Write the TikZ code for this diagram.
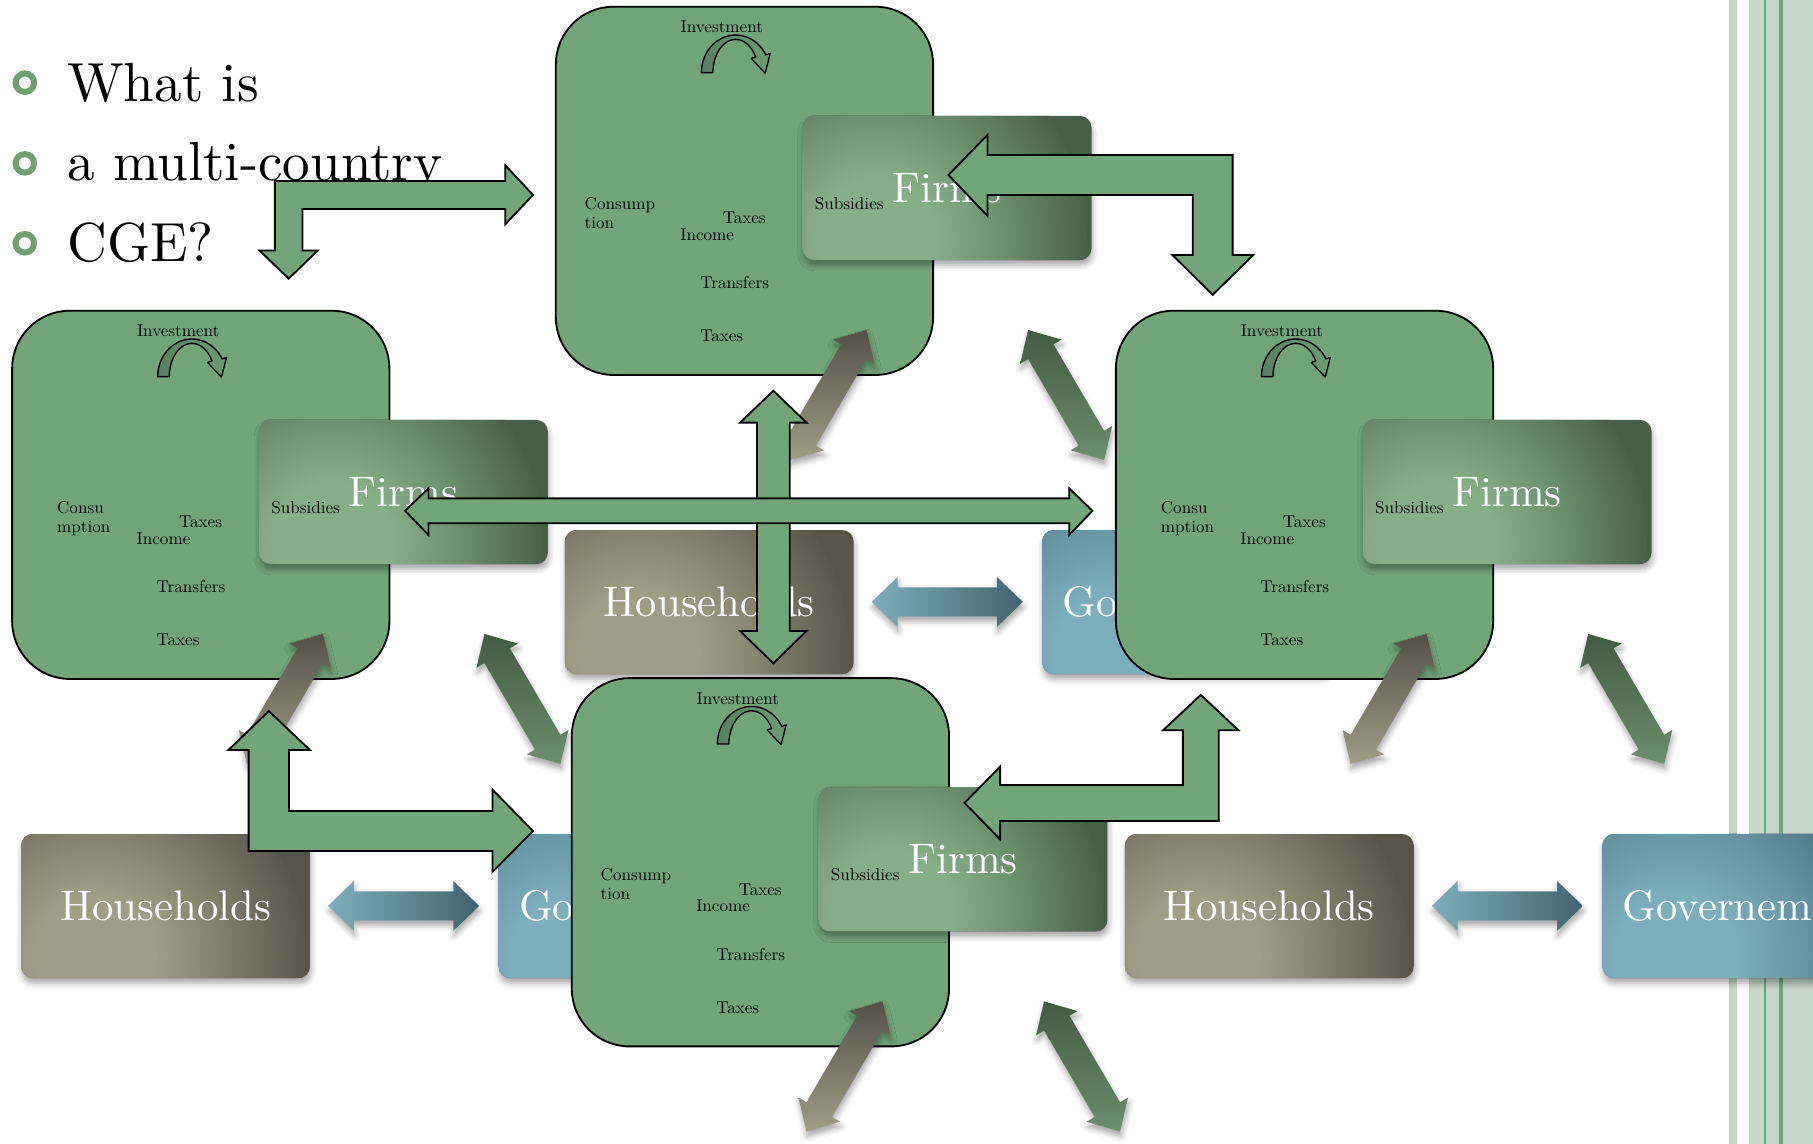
\documentclass[tikz,border=0pt]{standalone}
\usepackage{fontspec}
\setmainfont{lmroman10-regular}[Extension=.otf]
\usetikzlibrary{calc,shadows.blur}

% palette
\definecolor{panelgreen}{HTML}{72A57A}
\definecolor{ringgreen}{HTML}{6FA072}
\definecolor{stripelight}{HTML}{C4D6C6}
\definecolor{stripedark}{HTML}{72A57A}
\definecolor{firmL}{HTML}{86AE88}
\definecolor{firmM}{HTML}{6C8E6D}
\definecolor{firmD}{HTML}{475F46}
\definecolor{hhL}{HTML}{A09D87}
\definecolor{hhM}{HTML}{817E6B}
\definecolor{hhD}{HTML}{57554A}
\definecolor{govL}{HTML}{7DAEBB}
\definecolor{govM}{HTML}{6695A3}
\definecolor{govD}{HTML}{4A6E7A}

% soft glow from the lower left of each box
\pgfdeclareradialshading{firmglow}{\pgfpointorigin}{color(0bp)=(firmL); color(7bp)=(firmL); color(15bp)=(firmM); color(25bp)=(firmD); color(50bp)=(firmD)}
\pgfdeclareradialshading{hhglow}{\pgfpointorigin}{color(0bp)=(hhL); color(7bp)=(hhL); color(15bp)=(hhM); color(25bp)=(hhD); color(50bp)=(hhD)}
\pgfdeclareradialshading{govglow}{\pgfpointorigin}{color(0bp)=(govL); color(7bp)=(govL); color(15bp)=(govM); color(25bp)=(govD); color(50bp)=(govD)}

\newcommand{\smallfont}{\fontsize{7.4}{8.2}\selectfont}
\newcommand{\boxfont}{\fontsize{18.5}{22}\selectfont}
\newcommand{\bulletfont}{\fontsize{23.8}{28}\selectfont}

\tikzset{
  softshadow/.style={blur shadow={shadow xshift=0.4pt, shadow yshift=-2.2pt,
      shadow blur radius=2.5pt, shadow opacity=35}},
  sabox/.style={rounded corners=5pt, minimum width=124.9pt, minimum height=62.3pt,
      inner sep=0pt, text=white, font=\boxfont, softshadow},
  glowbox/.style 2 args={sabox, fill=#1D,
      path picture={\shade[shading=#2] ([shift={(62,105)}]path picture bounding box.north west) circle[radius=92pt];}},
  firmbox/.style={glowbox={firm}{firmglow}},
  hhbox/.style={glowbox={hh}{hhglow}},
  govbox/.style={glowbox={gov}{govglow}},
  bigbox/.style={draw=black, line width=0.8pt, fill=panelgreen, rounded corners=25pt,
      minimum width=163.15pt, minimum height=159.25pt, inner sep=0pt},
  lbl/.style={font=\smallfont, inner sep=0pt, text=black},
  arcband/.style={draw=black, line width=0.6pt, line join=round,
      left color=panelgreen!78!black, right color=panelgreen!95!black},
  hhlink/.style={softshadow, top color=hhD!95!black, bottom color=hhL},
  govlink/.style={softshadow, top color=firmD!95!black, middle color=firmL!90!firmM, bottom color=firmM},
  hglink/.style={softshadow, left color=govL, middle color=govM!80!govL, right color=govD!90!black},
  blockarrow/.style={fill=panelgreen, draw=black, line width=0.8pt, line join=miter},
  bulletring/.style={draw=ringgreen, line width=2.6pt},
  bullettext/.style={font=\bulletfont, inner sep=0pt, text=black}
}

% double-headed block arrow between two named points:
% #3 shaft half-width, #4 head half-width, #5 head length, #6 style
\newcommand{\dblarr}[6]{%
  \path[#6] (#1)
    -- ($(#1)!#5!(#2)!#4!90:(#2)$)
    -- ($(#1)!#5!(#2)!#3!90:(#2)$)
    -- ($(#2)!#5!(#1)!#3!-90:(#1)$)
    -- ($(#2)!#5!(#1)!#4!-90:(#1)$)
    -- (#2)
    -- ($(#2)!#5!(#1)!#4!90:(#1)$)
    -- ($(#2)!#5!(#1)!#3!90:(#1)$)
    -- ($(#1)!#5!(#2)!#3!-90:(#2)$)
    -- ($(#1)!#5!(#2)!#4!-90:(#2)$)
    -- cycle;}

% one country: panel with flows, then firms / households / government
% #1 prefix, #2 #3 top-left of the firms box, #4 x of consumption label, #5 #6 its lines
\newcommand{\cgeunit}[6]{%
\begin{scope}[shift={(#2,#3)}]
  \node[bigbox] (#1-panel) at (-50.35,64.75) {};
  \node[lbl, anchor=base] (#1-inv) at (-69.9,-72) {Investment};
  \path[arcband]
    plot[domain=180:28, samples=30] ({-58+29.6*cos(\x)},{-37.5-32.5*sin(\x)})
    -- (-28.1,-54) -- (-32.5,-37) -- (-44.5,-49.8)
    -- plot[domain=28:180, samples=30] ({-58+19.6*cos(\x)},{-37.5-28.7*sin(\x)})
    -- cycle;
  \node[lbl, anchor=base west] (#1-cons1) at (#4,80.8) {#5};
  \node[lbl, anchor=base west] (#1-cons2) at (#4,97.2) {#6};
  \node[lbl, anchor=base] (#1-tax1) at (-50.5,93.1) {Taxes};
  \node[lbl, anchor=base west] (#1-inc) at (-106.2,107.6) {Income};
  \node[lbl, anchor=base west] (#1-trf) at (-88.9,149.4) {Transfers};
  \node[lbl, anchor=base west] (#1-tax2) at (-88.9,195.2) {Taxes};
  \coordinate (#1-hu) at (55.2,185.1);  \coordinate (#1-hl) at (-10.5,297.5);
  \coordinate (#1-gu) at (195,185.1);   \coordinate (#1-gl) at (260.7,297.5);
  \coordinate (#1-bl) at (59.7,420.3);  \coordinate (#1-br) at (190.4,420.3);
  \dblarr{#1-hu}{#1-hl}{6.35pt}{10.4pt}{10.9pt}{hhlink}
  \dblarr{#1-gu}{#1-gl}{6.35pt}{10.4pt}{10.9pt}{govlink}
  \dblarr{#1-bl}{#1-br}{6.25pt}{10.8pt}{11.2pt}{hglink}
  \node[firmbox] (#1-firms) at (124.9,62.3) {Firms};
  \node[hhbox] (#1-hh) at (-80.8,420.4) {Households};
  \node[govbox] (#1-gov) at (332.1,420.4) {Governement};
  \node[lbl, anchor=base west] (#1-sub) at (10.2,80.8) {Subsidies};
\end{scope}}

\begin{document}
\begin{tikzpicture}[x=0.5pt, y=-0.5pt]
\useasboundingbox (0,0) rectangle (1568,989);
\clip (0,0) rectangle (1568,989);

% side stripes
\fill[stripelight] (1495.3,0) rectangle (1502.2,989);
\fill[stripelight] (1512.6,0) rectangle (1568,989);
\fill[stripedark] (1525.5,0) rectangle (1527.3,989);
\fill[stripedark] (1538.5,0) rectangle (1542,989);

% bullet list
\draw[bulletring] (21.5,71.5) circle[radius=4pt];
\draw[bulletring] (21.5,141.3) circle[radius=4pt];
\draw[bulletring] (21.5,210.4) circle[radius=4pt];
\node[bullettext, anchor=base west] (line1) at (57.9,87.9) {What is};
\node[bullettext, anchor=base west] (line2) at (57.9,156.5) {a multi-country};
\node[bullettext, anchor=base west] (line3) at (57.9,226.3) {CGE?};

% the four countries
\cgeunit{B}{694.2}{100.3}{-188.9}{Consump}{tion}
\cgeunit{A}{1178.6}{363.2}{-175}{Consu}{mption}
\cgeunit{C}{224}{363.2}{-175}{Consu}{mption}
\cgeunit{D}{708}{681}{-188.9}{Consump}{tion}

% trade links between countries
\draw[blockarrow] (237.7,156.5) -- (437,156.5) -- (437,143) -- (461,168.6) -- (437,194)
  -- (437,180.7) -- (261.6,180.7) -- (261.6,216.7) -- (274.8,216.7) -- (249.65,241)
  -- (224.5,216.7) -- (237.7,216.7) -- cycle;
\draw[blockarrow] (1066,134) -- (854,134) -- (854,116.7) -- (820.3,151.3) -- (854,186.7)
  -- (854,168.6) -- (1031.5,168.6) -- (1031.5,220.5) -- (1014,220.5) -- (1048.75,255)
  -- (1084,220.5) -- (1066,220.5) -- cycle;
\draw[blockarrow] (654.7,365.5) -- (640,365.5) -- (668.85,338) -- (697.5,365.5) -- (683,365.5)
  -- (683,545.7) -- (697.5,545.7) -- (668.85,573.7) -- (640,545.7) -- (654.7,545.7) -- cycle;
\draw[blockarrow] (370.6,431) -- (924.7,431) -- (924.7,422.3) -- (944.8,441.8) -- (924.7,462.7)
  -- (924.7,452.6) -- (370.6,452.6) -- (370.6,462.7) -- (350.4,441.8) -- (370.6,422.3) -- cycle;
\draw[blockarrow] (215,736) -- (215,648.6) -- (197.6,648.6) -- (232.5,615) -- (268,648.6)
  -- (250,648.6) -- (250,701.4) -- (426,701.4) -- (426,683) -- (461,718.7) -- (426,754)
  -- (426,736) -- cycle;
\draw[blockarrow] (1054,710) -- (865,710) -- (865,726) -- (834.2,694.4) -- (865,663)
  -- (865,679) -- (1023,679) -- (1023,631.5) -- (1006,631.5) -- (1038.5,601)
  -- (1071,631.5) -- (1054,631.5) -- cycle;
\end{tikzpicture}
\end{document}
